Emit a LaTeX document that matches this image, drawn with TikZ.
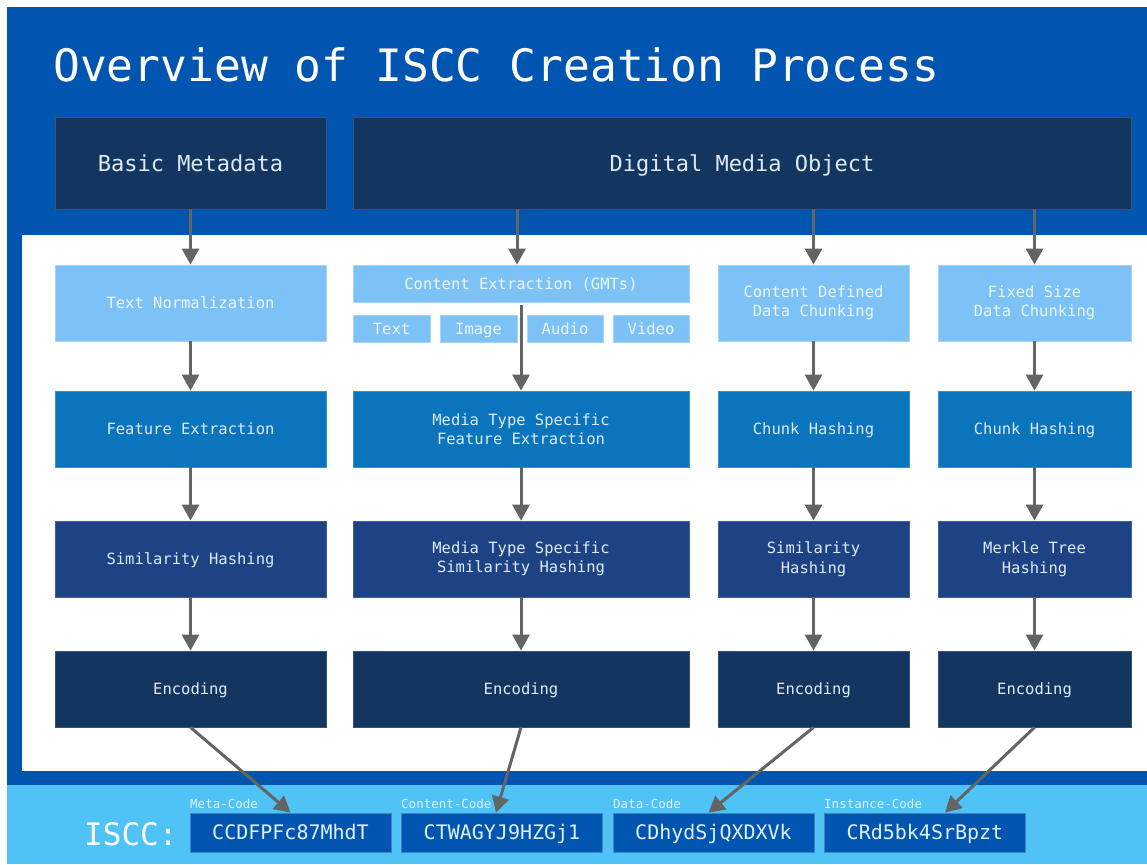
\documentclass[tikz,border=0pt]{standalone}
\usepackage{fontspec}
\setmonofont{DejaVu Sans Mono}
\usetikzlibrary{arrows.meta}

\definecolor{frameblue}{RGB}{0,85,177}
\definecolor{bandblue}{RGB}{79,194,246}
\definecolor{navy}{RGB}{19,54,96}
\definecolor{lightstage}{RGB}{125,194,247}
\definecolor{midstage}{RGB}{10,116,189}
\definecolor{deepstage}{RGB}{29,67,133}
\definecolor{arrowgray}{RGB}{100,100,100}
\definecolor{labelfg}{RGB}{222,234,248}
\definecolor{lightfg}{RGB}{236,246,255}
\definecolor{codefg}{RGB}{225,240,255}

\tikzset{
  stage/.style={inner sep=0pt, align=center, text=labelfg,
    font=\ttfamily\fontsize{15.5}{19.5}\selectfont},
  % single-line labels: box the text by its cap height so capitals sit centred
  oneline/.style={text height=11.3pt, text depth=0pt},
  light/.style={stage, fill=lightstage, draw=lightstage!70!white, line width=0.8pt, text=lightfg},
  mid/.style={stage, fill=midstage, draw=midstage!80!white, line width=0.8pt},
  deep/.style={stage, fill=deepstage, draw=deepstage!85!white, line width=0.8pt},
  dark/.style={stage, fill=navy, draw=navy!85!white, line width=0.8pt},
  head/.style={dark, text height=16pt, text depth=0pt, font=\ttfamily\fontsize{22}{26}\selectfont},
  codebox/.style={inner sep=0pt, text height=14.6pt, text depth=0pt, fill=frameblue,
    draw=frameblue!75!white, line width=0.8pt,
    text=codefg, minimum width=201pt, minimum height=39pt,
    font=\ttfamily\fontsize{20}{24}\selectfont},
  codetag/.style={inner sep=0pt, anchor=base west, text=codefg,
    font=\ttfamily\fontsize{12.5}{14}\selectfont},
  arr/.style={draw=arrowgray, line width=3pt, -{Triangle[length=16pt,width=17pt]}},
}

\begin{document}
\begin{tikzpicture}[x=1pt,y=-1pt]
  \useasboundingbox (0,0) rectangle (1147,864);
  \fill[white] (0,0) rectangle (1147,864);

  % frame, inner panel and bottom band
  \fill[frameblue] (7,7) rectangle (1147,785);
  \fill[white] (22,235) rectangle (1147,771);
  \fill[bandblue] (7,785) rectangle (1147,864);

  % title
  \node[inner sep=0pt, anchor=base west, text=white,
        font=\ttfamily\fontsize{44.6}{50}\selectfont] (title) at (53,82)
        {Overview of ISCC Creation Process};

  % inputs
  \node[head, minimum width=271pt, minimum height=92pt] (bm) at (190.5,163) {Basic Metadata};
  \node[head, minimum width=778pt, minimum height=92pt] (dmo) at (742,163) {Digital Media Object};

  % column 1: metadata
  \node[light, oneline, minimum width=271pt, minimum height=76pt] (tn) at (190.5,303) {Text Normalization};
  \node[mid,   oneline, minimum width=271pt, minimum height=76pt] (fe) at (190.5,429) {Feature Extraction};
  \node[deep,  oneline, minimum width=271pt, minimum height=76pt] (sh) at (190.5,559) {Similarity Hashing};
  \node[dark,  oneline, minimum width=271pt, minimum height=76pt] (e1) at (190.5,689) {Encoding};

  % column 2: content
  \node[light, oneline, minimum width=336pt, minimum height=37pt] (ce) at (521,283.5) {Content Extraction (GMTs)};
  \node[light, oneline, minimum width=77pt, minimum height=27pt] (gtext)  at (391.5,328.5) {Text};
  \node[light, oneline, minimum width=77pt, minimum height=27pt] (gimage) at (478.5,328.5) {Image};
  \node[light, oneline, minimum width=76pt, minimum height=27pt] (gaudio) at (565,328.5) {Audio};
  \node[light, oneline, minimum width=76pt, minimum height=27pt] (gvideo) at (651,328.5) {Video};
  \node[mid,   minimum width=336pt, minimum height=76pt] (mfe) at (521,429) {Media Type Specific\\Feature Extraction};
  \node[deep,  minimum width=336pt, minimum height=76pt] (msh) at (521,559) {Media Type Specific\\Similarity Hashing};
  \node[dark,  oneline, minimum width=336pt, minimum height=76pt] (e2) at (521,689) {Encoding};

  % column 3: data
  \node[light, minimum width=191pt, minimum height=76pt] (cdc) at (813.5,303) {Content Defined\\Data Chunking};
  \node[mid,   oneline, minimum width=191pt, minimum height=76pt] (ch3) at (813.5,429) {Chunk Hashing};
  \node[deep,  minimum width=191pt, minimum height=76pt] (sh3) at (813.5,559) {Similarity\\Hashing};
  \node[dark,  oneline, minimum width=191pt, minimum height=76pt] (e3) at (813.5,689) {Encoding};

  % column 4: instance
  \node[light, minimum width=193pt, minimum height=76pt] (fsc) at (1034.5,303) {Fixed Size\\Data Chunking};
  \node[mid,   oneline, minimum width=193pt, minimum height=76pt] (ch4) at (1034.5,429) {Chunk Hashing};
  \node[deep,  minimum width=193pt, minimum height=76pt] (mth) at (1034.5,559) {Merkle Tree\\Hashing};
  \node[dark,  oneline, minimum width=193pt, minimum height=76pt] (e4) at (1034.5,689) {Encoding};

  % ISCC code row
  \node[inner sep=0pt, anchor=base west, text=white,
        font=\ttfamily\fontsize{31}{36}\selectfont] (iscc) at (84,845) {ISCC:};
  \node[codebox] (meta)     at (290.5,832.5) {CCDFPFc87MhdT};
  \node[codebox] (content)  at (502,832.5)   {CTWAGYJ9HZGj1};
  \node[codebox] (data)     at (713.5,832.5) {CDhydSjQXDXVk};
  \node[codebox] (instance) at (925,832.5)   {CRd5bk4SrBpzt};
  \node[codetag] (tmeta)     at (190,808) {Meta-Code};
  \node[codetag] (tcontent)  at (401,808) {Content-Code};
  \node[codetag] (tdata)     at (613,808) {Data-Code};
  \node[codetag] (tinstance) at (824,808) {Instance-Code};

  % flow: inputs to first stages
  \draw[arr] (bm.south) -- (tn.north);
  \draw[arr] ([xshift=-4pt]ce.north |- dmo.south) -- ([xshift=-4pt]ce.north);
  \draw[arr] (cdc.north |- dmo.south) -- (cdc.north);
  \draw[arr] (fsc.north |- dmo.south) -- (fsc.north);

  % flow: column 1
  \draw[arr] (tn.south) -- (fe.north);
  \draw[arr] (fe.south) -- (sh.north);
  \draw[arr] (sh.south) -- (e1.north);

  % flow: column 2
  \draw[arr] ([yshift=-3pt]ce.south) -- (mfe.north);
  \draw[arr] (mfe.south) -- (msh.north);
  \draw[arr] (msh.south) -- (e2.north);

  % flow: column 3
  \draw[arr] (cdc.south) -- (ch3.north);
  \draw[arr] (ch3.south) -- (sh3.north);
  \draw[arr] (sh3.south) -- (e3.north);

  % flow: column 4
  \draw[arr] (fsc.south) -- (ch4.north);
  \draw[arr] (ch4.south) -- (mth.north);
  \draw[arr] (mth.south) -- (e4.north);

  % encodings to code components
  \draw[arr] (e1.south) -- (meta.north);
  \draw[arr] (e2.south) -- ([xshift=-6pt]content.north);
  \draw[arr] (e3.south) -- ([xshift=-5pt]data.north);
  \draw[arr] (e4.south) -- ([xshift=20pt]instance.north);
\end{tikzpicture}
\end{document}
